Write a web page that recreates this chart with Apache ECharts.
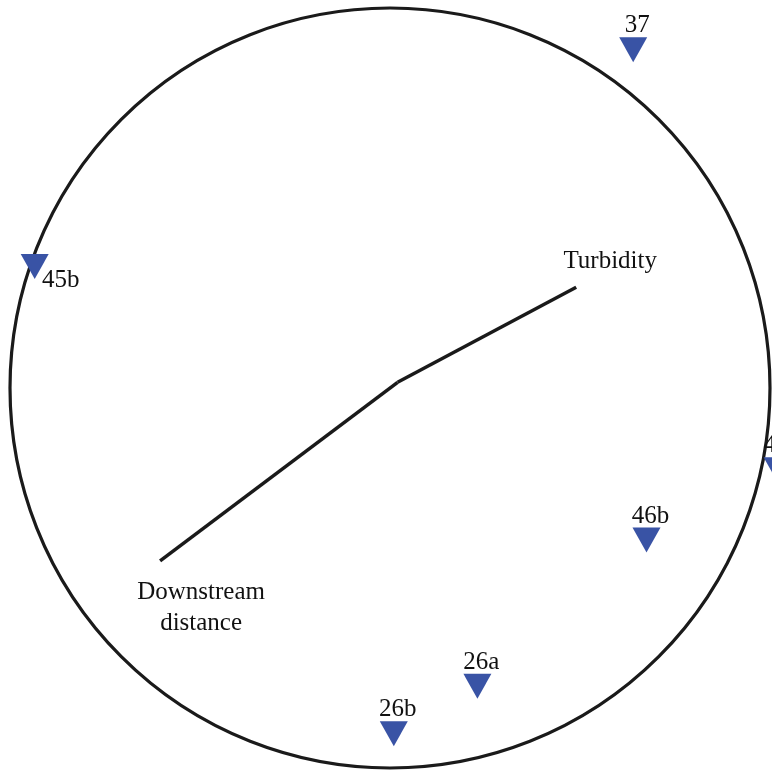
<!DOCTYPE html>
<html>
<head>
<meta charset="utf-8">
<script src="https://cdn.jsdelivr.net/npm/echarts@6/dist/echarts.min.js"></script>
<style>
  html, body {margin: 0; padding: 0; background: #fff;}
  #chart {width: 772px; height: 777px;}
</style>
</head>
<body>
<div id="chart"></div>
<script>
  // site scores (ordination units)
  let siteNames = ['37', '45b', '46a', '46b', '26a', '26b'];
  let siteX = [1.28, -1.87, 2.04, 1.35, 0.46, 0.02];
  let siteY = [1.78, 0.64, -0.43, -0.80, -1.57, -1.82];

  // environmental vectors
  let vecNames = ['Turbidity', 'Downstream\ndistance'];
  let vecOrigin = [0.04, 0.03];
  let vecX = [0.98, -1.21];
  let vecY = [0.53, -0.91];

  // equilibrium circle
  let circleCenter = [0, 0];
  let circleRadius = 2.0;

  let pxPerUnit = 190;
  let font = "'Liberation Serif', 'Times New Roman', serif";
  let ink = '#1a1a1a';
  let blue = '#3953a5';

  let chart = echarts.init(document.getElementById('chart'));

  let vecSeries = vecNames.map(function(name, i) {
    return {
      type: 'line',
      name: name,
      symbol: 'none',
      silent: true,
      clip: false,
      lineStyle: {color: ink, width: 3.5},
      data: [vecOrigin, [vecX[i], vecY[i]]]
    };
  });

  let vecLabelOffset = [[34, -26], [41, 47]];
  let vecTips = vecNames.map(function(name, i) {
    return {
      name: name,
      value: [vecX[i], vecY[i]],
      label: {offset: vecLabelOffset[i]}
    };
  });

  let siteData = siteNames.map(function(name, i) {
    let item = {name: name, value: [siteX[i], siteY[i]]};
    if (name == '45b') {
      item.label = {position: 'inside', offset: [26, 14]};
    }
    return item;
  });

  let option = {
    animation: false,
    grid: {left: 0, top: 0, width: 772, height: 777, outerBoundsMode: 'none'},
    xAxis: {type: 'value', min: -390 / pxPerUnit, max: 382 / pxPerUnit, show: false},
    yAxis: {type: 'value', min: -389 / pxPerUnit, max: 388 / pxPerUnit, show: false},
    series: [
      {
        type: 'custom',
        silent: true,
        clip: false,
        data: [[circleCenter[0], circleCenter[1], circleRadius]],
        renderItem: function(params, api) {
          let c = api.coord([api.value(0), api.value(1)]);
          let r = api.size([api.value(2), 0])[0];
          return {
            type: 'circle',
            shape: {cx: c[0], cy: c[1], r: r},
            style: {fill: 'none', stroke: ink, lineWidth: 3.2}
          };
        }
      }
    ].concat(vecSeries).concat([
      {
        type: 'scatter',
        symbol: 'circle',
        symbolSize: 2,
        silent: true,
        clip: false,
        itemStyle: {color: 'rgba(0,0,0,0)', opacity: 1},
        label: {
          show: true,
          formatter: '{b}',
          position: 'inside',
          fontFamily: font,
          fontSize: 25,
          lineHeight: 31,
          color: '#111'
        },
        data: vecTips
      },
      {
        type: 'scatter',
        symbol: 'triangle',
        symbolRotate: 180,
        symbolSize: [28, 25],
        clip: false,
        itemStyle: {color: blue, opacity: 1},
        label: {
          show: true,
          formatter: '{b}',
          position: 'top',
          distance: -1,
          offset: [4, 0],
          fontFamily: font,
          fontSize: 25,
          color: '#111'
        },
        data: siteData
      }
    ])
  };

  chart.setOption(option);
</script>
</body>
</html>
